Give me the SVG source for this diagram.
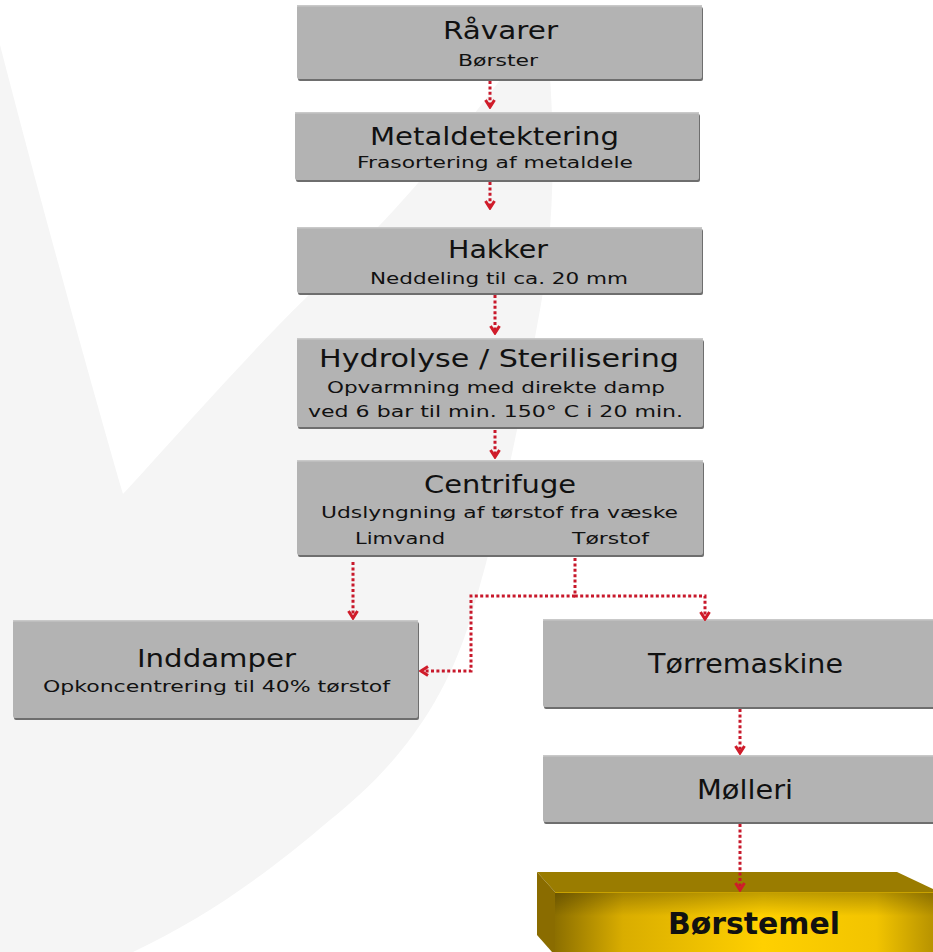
<svg xmlns="http://www.w3.org/2000/svg" width="933" height="952" viewBox="0 0 933 952">
<style>
.box{fill:#b3b3b3}
.shd{fill:#6e6e6e}
.hl{fill:#c9c9c9}
.t{font-family:"DejaVu Sans",Verdana,sans-serif;font-size:24px;fill:#111}
.s{font-family:"DejaVu Sans",Verdana,sans-serif;font-size:16px;fill:#111}
.t2{font-family:"DejaVu Sans",Tahoma,sans-serif;font-size:26px;fill:#111}
.c{fill:none;stroke:#c8182b;stroke-width:3;stroke-dasharray:3 2.4}
</style>
<defs>
<marker id="chev" viewBox="0 0 12 12" refX="10" refY="6" markerWidth="12" markerHeight="12" markerUnits="userSpaceOnUse" orient="auto">
<path d="M3,1.5 L10,6 L3,10.5" fill="none" stroke="#d01c2a" stroke-width="3"/>
</marker>
<linearGradient id="gold" x1="0" y1="0" x2="1" y2="0">
<stop offset="0" stop-color="#8c6f00"/>
<stop offset="0.18" stop-color="#d9ad00"/>
<stop offset="0.55" stop-color="#ffd000"/>
<stop offset="0.85" stop-color="#f2c400"/>
<stop offset="1" stop-color="#b89300"/>
</linearGradient>
<linearGradient id="goldv" x1="0" y1="0" x2="0" y2="1">
<stop offset="0" stop-color="#000" stop-opacity="0.25"/>
<stop offset="0.4" stop-color="#000" stop-opacity="0"/>
</linearGradient>
</defs>
<rect width="933" height="952" fill="#ffffff"/>
<path d="M0,45 C40,200 90,380 123,494 C200,410 270,330 330,275 C420,190 470,120 545,20 C556,120 556,220 540,310 C520,420 500,520 470,620 C440,720 380,780 330,820 C260,880 200,920 133,952 L0,952 Z" fill="#f5f5f5"/>

<g id="raavarer">
<rect class="shd" x="298" y="7" width="405" height="74" rx="2"/>
<rect class="box" x="297" y="5" width="405" height="74" rx="2"/>
<rect class="hl" x="297" y="5" width="405" height="1.5"/>
<text class="t" x="443" y="39" textLength="115" lengthAdjust="spacingAndGlyphs">Råvarer</text>
<text class="s" x="458" y="66" textLength="80" lengthAdjust="spacingAndGlyphs">Børster</text>
</g>
<g id="metaldetektering">
<rect class="shd" x="296" y="114" width="404" height="68" rx="2"/>
<rect class="box" x="295" y="112" width="404" height="68" rx="2"/>
<rect class="hl" x="295" y="112" width="404" height="1.5"/>
<text class="t" x="370" y="145" textLength="249" lengthAdjust="spacingAndGlyphs">Metaldetektering</text>
<text class="s" x="357" y="168" textLength="276" lengthAdjust="spacingAndGlyphs">Frasortering af metaldele</text>
</g>
<g id="hakker">
<rect class="shd" x="298" y="229" width="405" height="66" rx="2"/>
<rect class="box" x="297" y="227" width="405" height="66" rx="2"/>
<rect class="hl" x="297" y="227" width="405" height="1.5"/>
<text class="t" x="448" y="258" textLength="100" lengthAdjust="spacingAndGlyphs">Hakker</text>
<text class="s" x="370" y="284" textLength="258" lengthAdjust="spacingAndGlyphs">Neddeling til ca. 20 mm</text>
</g>
<g id="hydrolyse">
<rect class="shd" x="298" y="340" width="406" height="89" rx="2"/>
<rect class="box" x="297" y="338" width="406" height="89" rx="2"/>
<rect class="hl" x="297" y="338" width="406" height="1.5"/>
<text class="t" x="319" y="367" textLength="360" lengthAdjust="spacingAndGlyphs">Hydrolyse / Sterilisering</text>
<text class="s" x="327" y="393" textLength="338" lengthAdjust="spacingAndGlyphs">Opvarmning med direkte damp</text>
<text class="s" x="308" y="417" textLength="375" lengthAdjust="spacingAndGlyphs">ved 6 bar til min. 150° C i 20 min.</text>
</g>
<g id="centrifuge">
<rect class="shd" x="298" y="462" width="406" height="95" rx="2"/>
<rect class="box" x="297" y="460" width="406" height="95" rx="2"/>
<rect class="hl" x="297" y="460" width="406" height="1.5"/>
<text class="t" x="424" y="493" textLength="152" lengthAdjust="spacingAndGlyphs">Centrifuge</text>
<text class="s" x="321" y="518" textLength="357" lengthAdjust="spacingAndGlyphs">Udslyngning af tørstof fra væske</text>
<text class="s" x="355" y="544" textLength="90" lengthAdjust="spacingAndGlyphs">Limvand</text>
<text class="s" x="572" y="544" textLength="77" lengthAdjust="spacingAndGlyphs">Tørstof</text>
</g>
<g id="inddamper">
<rect class="shd" x="14" y="622" width="405" height="98" rx="2"/>
<rect class="box" x="13" y="620" width="405" height="98" rx="2"/>
<rect class="hl" x="13" y="620" width="405" height="1.5"/>
<text class="t" x="137" y="667" textLength="159" lengthAdjust="spacingAndGlyphs">Inddamper</text>
<text class="s" x="43" y="692" textLength="347" lengthAdjust="spacingAndGlyphs">Opkoncentrering til 40% tørstof</text>
</g>
<g id="torremaskine">
<rect class="shd" x="544" y="621" width="400" height="88" rx="2"/>
<rect class="box" x="543" y="619" width="400" height="88" rx="2"/>
<rect class="hl" x="543" y="619" width="400" height="1.5"/>
<text class="t2" x="648" y="673" textLength="195" lengthAdjust="spacingAndGlyphs">Tørremaskine</text>
</g>
<g id="molleri">
<rect class="shd" x="544" y="757" width="400" height="67" rx="2"/>
<rect class="box" x="543" y="755" width="400" height="67" rx="2"/>
<rect class="hl" x="543" y="755" width="400" height="1.5"/>
<text class="t2" x="697" y="799" textLength="96" lengthAdjust="spacingAndGlyphs">Mølleri</text>
</g>
<g id="borstemel">
<polygon points="537,872 897,872 933,889 933,892 555,892" fill="#9a7c00"/>
<polygon points="537,872 555,892 555,952 552,952 537,935" fill="#8a6c00"/>
<rect x="555" y="892" width="378" height="60" fill="url(#gold)"/>
<rect x="555" y="892" width="378" height="60" fill="url(#goldv)"/>
<line x1="555" y1="892.5" x2="933" y2="892.5" stroke="#c9a200" stroke-width="1"/>
<text x="668" y="934" textLength="172" lengthAdjust="spacingAndGlyphs" font-family="'DejaVu Sans',Verdana,sans-serif" font-size="31" font-weight="bold" fill="#111">Børstemel</text>
</g>

<g id="connectors">
<path class="c" d="M490,81 V107" marker-end="url(#chev)"/>
<path class="c" d="M490,182 V208" marker-end="url(#chev)"/>
<path class="c" d="M495,295 V333" marker-end="url(#chev)"/>
<path class="c" d="M495,430 V457" marker-end="url(#chev)"/>
<path class="c" d="M353,562 V618" marker-end="url(#chev)"/>
<path class="c" d="M575,558 V596 H705 V619" marker-end="url(#chev)"/>
<path class="c" d="M575,596 H471 V671 H421" marker-end="url(#chev)"/>
<path class="c" d="M740,709 V753" marker-end="url(#chev)"/>
<path class="c" d="M740,824 V890" marker-end="url(#chev)"/>
</g>
</svg>
